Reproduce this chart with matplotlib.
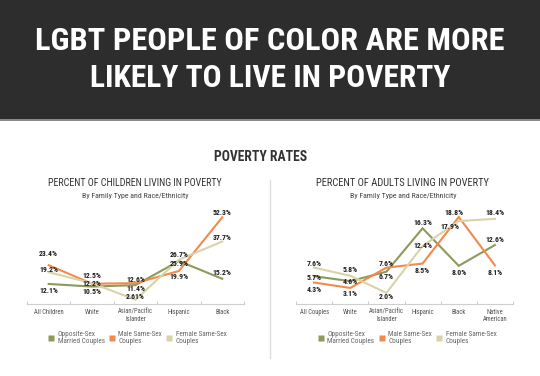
import matplotlib
matplotlib.use('Agg')
import matplotlib.pyplot as plt
from matplotlib import font_manager as fm
from matplotlib.patches import Rectangle
from matplotlib.lines import Line2D

# ---- data ----
child_cats = ['All Children', 'White', 'Asian/Pacific\nIslander', 'Hispanic', 'Black']
child_opposite = [12.1, 10.5, 11.4, 25.9, 15.2]
child_male = [23.4, 12.2, 12.6, 19.9, 52.3]
child_female = [19.2, 12.5, 2.61, 26.7, 37.7]
child_female_txt = ['19.2%', '12.5%', '2.61%', '26.7%', '37.7%']

adult_cats = ['All Couples', 'White', 'Asian/Pacific\nIslander', 'Hispanic', 'Black', 'Native\nAmerican']
adult_opposite = [5.7, 4.6, 6.7, 16.3, 8.0, 12.6]
adult_male = [4.3, 3.1, 7.6, 8.5, 18.8, 8.1]
adult_female = [7.6, 5.8, 2.0, 12.4, 17.9, 18.4]

series_names = ['Opposite-Sex\nMarried Couples', 'Male Same-Sex\nCouples', 'Female Same-Sex\nCouples']

# ---- font: look for a narrow / condensed family ----
names = {f.name for f in fm.fontManager.ttflist}
COND = ['DejaVu Sans']
for cand in ['Liberation Sans Narrow', 'Roboto Condensed', 'DejaVu Sans Condensed',
             'Noto Sans Condensed', 'Open Sans Condensed', 'Noto Sans Display Condensed']:
    if cand in names:
        COND = [cand, 'DejaVu Sans']
        break

GREEN = '#8c9a5b'
ORANGE = '#f48a4a'
BEIGE = '#d8d3a9'
colors = [GREEN, ORANGE, BEIGE]

# label nudges in pixels (dx, dy), dy positive = up
child_off = [
    [(0, -7), (0, -5), (0, -3), (0, -2), (0, 6)],
    [(0, 12), (0, 0), (0, 4), (0, -5), (0, 5)],
    [(0, 3), (0, 8), (0, 3), (0, 5), (0, 4)],
]
adult_off = [
    [(0, -1), (0, 0), (0, -5), (0, 6), (0, -7), (0, 6)],
    [(0, -7), (0, -6), (0, 4), (0, -7), (-5, 5), (0, -7)],
    [(0, 4), (0, 6), (0, -4), (0, 0), (-9, -5), (0, 6)],
]

fig = plt.figure(figsize=(5.4, 3.76), dpi=100)
W, H = 540.0, 376.0
renderer = fig.canvas.get_renderer()


def size_for(s, width_px, weight='normal', base=10.0):
    # font size at which string s spans width_px pixels
    t = fig.text(0, 0, s, fontsize=base, fontweight=weight, family=COND)
    w = t.get_window_extent(renderer).width
    t.remove()
    return base * width_px / w


lab_fs = size_for('23.4%', 19, 'bold')
cat_fs = size_for('All Children', 30)
leg_fs = size_for('Married Couples', 47)

# banner
fig.patches.append(Rectangle((0, 1 - 119 / H), 1, 119 / H, transform=fig.transFigure,
                             facecolor='#2d2d2d', edgecolor='none', zorder=0))
fig.patches.append(Rectangle((0, 1 - 120.5 / H), 1, 1.5 / H, transform=fig.transFigure,
                             facecolor='#8a8a8a', edgecolor='none', zorder=0))
fig.text(0.5, 1 - 41.5 / H, 'LGBT PEOPLE OF COLOR ARE MORE', ha='center', va='center',
         color='white', fontsize=size_for('LGBT PEOPLE OF COLOR ARE MORE', 466, 'bold'),
         fontweight='bold', family=COND)
fig.text(0.5, 1 - 78 / H, 'LIKELY TO LIVE IN POVERTY', ha='center', va='center',
         color='white', fontsize=size_for('LIKELY TO LIVE IN POVERTY', 361, 'bold'),
         fontweight='bold', family=COND)
fig.text(261 / W, 1 - 157 / H, 'POVERTY RATES', ha='center', va='center',
         color='#333333', fontsize=size_for('POVERTY RATES', 93, 'bold'),
         fontweight='bold', family=COND)

# thin separator between the two panels
fig.add_artist(Line2D([269.5 / W, 269.5 / W], [1 - 180 / H, 1 - 358 / H],
                      color='#dddddd', lw=1.0))


def panel(rect, cats, vals, offs, ylim, title, center_x, leg_x, txts=None):
    ax = fig.add_axes(rect)
    x = list(range(len(cats)))
    for i, v in enumerate(vals):
        ax.plot(x, v, color=colors[i], lw=1.5, solid_joinstyle='miter', zorder=2)
    for i, v in enumerate(vals):
        for j, val in enumerate(v):
            if txts is not None and i == 2:
                s = txts[j]
            else:
                s = '%.1f%%' % val
            dx, dy = offs[i][j]
            ax.annotate(s, (j, val), xytext=(dx * 0.72, dy * 0.72), textcoords='offset points',
                        ha='center', va='center', fontsize=lab_fs, fontweight='bold',
                        color='#1e1e1e', family=COND, zorder=3)
    ax.set_xlim(-0.5, len(cats) - 0.5)
    ax.set_ylim(*ylim)
    for s in ['top', 'left', 'right']:
        ax.spines[s].set_visible(False)
    ax.spines['bottom'].set_color('#cfcfcf')
    ax.spines['bottom'].set_linewidth(0.8)
    ax.set_yticks([])
    ax.set_xticks(x)
    ax.set_xticklabels(cats, fontsize=cat_fs, color='#555555', family=COND, linespacing=1.05)
    ax.tick_params(axis='x', which='major', length=0, pad=3.5)
    ax.set_xticks([k - 0.5 for k in range(len(cats) + 1)], minor=True)
    ax.tick_params(axis='x', which='minor', direction='in', length=2.5, color='#cfcfcf', width=0.8)
    fig.text(center_x / W, 1 - 183.5 / H, title, ha='center', va='center',
             fontsize=size_for(title, 175), color='#333333', family=COND)
    sub = 'By Family Type and Race/Ethnicity'
    fig.text(center_x / W, 1 - 196 / H, sub, ha='center', va='center',
             fontsize=size_for(sub, 106), color='#444444', family=COND)
    # key: coloured square + two-line name
    for c, name, sx in zip(colors, series_names, leg_x):
        fig.add_artist(Line2D([sx / W], [1 - 337.5 / H], marker='s', markersize=4,
                              markerfacecolor=c, markeredgecolor='none', linestyle='none'))
        fig.text((sx + 6.5) / W, 1 - 338 / H, name, ha='left', va='center',
                 fontsize=leg_fs, color='#666666', family=COND, linespacing=1.0)
    return ax


ax1 = panel([27 / W, 72 / H, 217 / W, 94 / H], child_cats,
            [child_opposite, child_male, child_female], child_off, (0, 56.7),
            'PERCENT OF CHILDREN LIVING IN POVERTY', 135, [51, 111.7, 169], child_female_txt)
ax2 = panel([296 / W, 72 / H, 217 / W, 94 / H], adult_cats,
            [adult_opposite, adult_male, adult_female], adult_off, (-0.45, 20.35),
            'PERCENT OF ADULTS LIVING IN POVERTY', 403, [320.7, 381.7, 439])

fig.savefig('out.png', dpi=100)
